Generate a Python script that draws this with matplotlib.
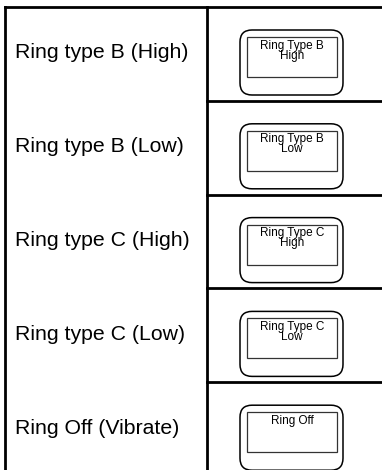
import matplotlib
matplotlib.use("Agg")
import matplotlib.pyplot as plt
from matplotlib.patches import FancyBboxPatch, Rectangle

plt.rcParams['font.family'] = ['Liberation Sans', 'DejaVu Sans']

labels = ["Ring type B (High)", "Ring type B (Low)", "Ring type C (High)",
          "Ring type C (Low)", "Ring Off (Vibrate)"]
icon_texts = ["Ring Type B\nHigh", "Ring Type B\nLow", "Ring Type C\nHigh",
              "Ring Type C\nLow", "Ring Off"]

W, H = 382, 470
fig = plt.figure(figsize=(W / 100, H / 100), dpi=100)
ax = fig.add_axes([0, 0, 1, 1])
ax.set_xlim(0, W)
ax.set_ylim(H, 0)
ax.axis('off')

top = 7
row_h = 93.8
left = 5
div = 207
lw = 2.0

# outer frame
ax.plot([left, left], [top, H], color='black', lw=lw, solid_capstyle='projecting')
ax.plot([left, W], [top, top], color='black', lw=lw, solid_capstyle='projecting')
ax.plot([div, div], [top, H], color='black', lw=lw)

for i, (lab, txt) in enumerate(zip(labels, icon_texts)):
    y0 = top + i * row_h
    if i > 0:
        ax.plot([div, W], [y0, y0], color='black', lw=lw)
    ax.text(15, y0 + row_h / 2 - 1, lab, fontsize=15.3, ha='left', va='center')
    # phone display icon
    outer = FancyBboxPatch((240, y0 + 23), 103, 65,
                           boxstyle="round,pad=0,rounding_size=12",
                           fc='none', ec='black', lw=1.1)
    ax.add_patch(outer)
    inner = Rectangle((247, y0 + 30), 90, 40, fc='none', ec='#333333', lw=0.9)
    ax.add_patch(inner)
    ax.text(292, y0 + 32.5, txt, fontsize=8.5, ha='center', va='top',
            multialignment='center', linespacing=0.8)

fig.savefig("out.png", dpi=100)
